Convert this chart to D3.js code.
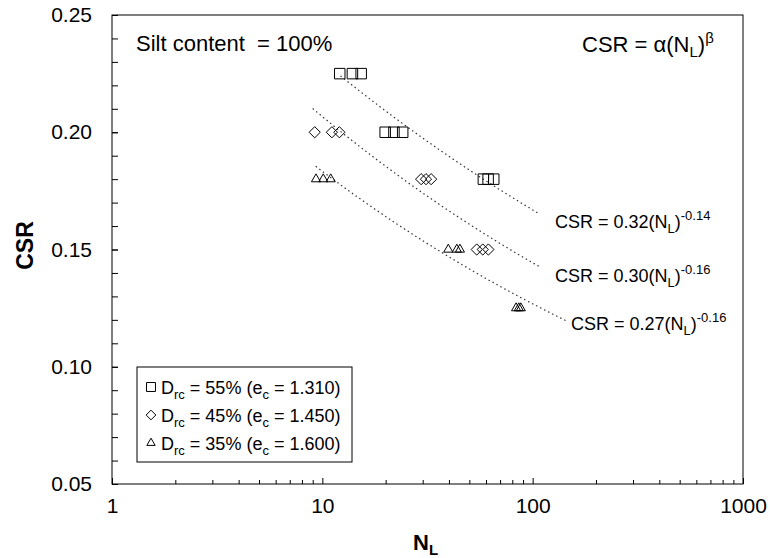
<!DOCTYPE html>
<html>
<head>
<meta charset="utf-8">
<script src="https://cdn.jsdelivr.net/npm/d3@7"></script>
<style>
  body { margin: 0; background: #fff; }
  svg { font-family: "Liberation Sans", Arial, sans-serif; }
</style>
</head>
<body>
<div id="chart"></div>
<script>
// data
const nl55 = [12.1, 13.9, 15.3, 19.9, 21.9, 24.1, 58.3, 61.4, 65.3];
const csr55 = [0.225, 0.225, 0.225, 0.20, 0.20, 0.20, 0.18, 0.18, 0.18];
const nl45 = [9.2, 11.1, 12.05, 29.5, 31.1, 32.9, 54.2, 57.9, 61.6];
const csr45 = [0.20, 0.20, 0.20, 0.18, 0.18, 0.18, 0.15, 0.15, 0.15];
const nl35 = [9.33, 10.1, 10.96, 39.7, 43.6, 45.1, 83.4, 85.9, 87.8];
const csr35 = [0.18, 0.18, 0.18, 0.15, 0.15, 0.15, 0.125, 0.125, 0.125];

// fitted curves CSR = a * N^b, drawn over [nFrom, nTo]
const fitAlpha = [0.318, 0.296, 0.265];
const fitBeta = [-0.14, -0.156, -0.16];
const fitFrom = [12.2, 9.0, 9.3];
const fitTo = [108, 108, 145];
const fitLabels = ["0.32", "0.30", "0.27"];
const fitExps = ["-0.14", "-0.16", "-0.16"];

const legendDrc = ["55%", "45%", "35%"];
const legendEc = ["1.310", "1.450", "1.600"];

const xTicks = [1, 10, 100, 1000];
const yTicks = [0.05, 0.10, 0.15, 0.20, 0.25];

const width = 770, height = 558;
const margin = { left: 112, right: 27, top: 15, bottom: 74 };

const svg = d3.select("#chart").append("svg")
    .attr("width", width)
    .attr("height", height);

const x = d3.scaleLog().domain([1, 1000]).range([margin.left, width - margin.right]);
const y = d3.scaleLinear().domain([0.05, 0.25]).range([height - margin.bottom, margin.top]);

// frame
svg.append("rect")
    .attr("x", x(1)).attr("y", y(0.25))
    .attr("width", x(1000) - x(1)).attr("height", y(0.05) - y(0.25))
    .attr("fill", "none").attr("stroke", "#000").attr("stroke-width", 1);

// x axis, ticks pointing inward
const minorX = [];
[1, 10, 100].forEach(d => { for (let k = 2; k <= 9; k++) minorX.push(d * k); });

const xAxis = svg.append("g")
    .attr("transform", `translate(0,${y(0.05)})`)
    .call(d3.axisBottom(x).tickValues(xTicks).tickFormat(d3.format("d")).tickSizeInner(-6).tickSizeOuter(0).tickPadding(14));
xAxis.select(".domain").remove();
xAxis.selectAll("text").attr("font-size", 21).attr("fill", "#000").attr("font-family", "Liberation Sans, Arial, sans-serif");

svg.append("g")
    .attr("transform", `translate(0,${y(0.05)})`)
    .call(d3.axisBottom(x).tickValues(minorX).tickFormat("").tickSizeInner(-4).tickSizeOuter(0))
    .select(".domain").remove();

// y axis
const yAxis = svg.append("g")
    .attr("transform", `translate(${x(1)},0)`)
    .call(d3.axisLeft(y).tickValues(yTicks).tickFormat(d3.format(".2f")).tickSizeInner(-6).tickSizeOuter(0).tickPadding(20));
yAxis.select(".domain").remove();
yAxis.selectAll("text").attr("font-size", 21).attr("fill", "#000").attr("font-family", "Liberation Sans, Arial, sans-serif");

svg.append("g")
    .attr("transform", `translate(${x(1)},0)`)
    .call(d3.axisLeft(y).tickValues(d3.range(0.06, 0.25, 0.01)).tickFormat("").tickSizeInner(-6).tickSizeOuter(0))
    .select(".domain").remove();

svg.selectAll(".tick line").attr("stroke", "#000");

// axis titles
const xTitle = svg.append("text")
    .attr("x", 413).attr("y", 550)
    .attr("font-size", 22).attr("font-weight", "bold");
xTitle.append("tspan").text("N");
xTitle.append("tspan").attr("font-size", 15).attr("dy", 5).text("L");

svg.append("text")
    .attr("transform", `translate(33,${(y(0.05) + y(0.25)) / 2 - 4}) rotate(-90)`)
    .attr("text-anchor", "middle")
    .attr("font-size", 23).attr("font-weight", "bold")
    .text("CSR");

// fit curves
const line = d3.line().x(d => x(d[0])).y(d => y(d[1]));
fitAlpha.forEach((a, i) => {
    const pts = d3.range(0, 41).map(k => {
        const n = Math.pow(10, Math.log10(fitFrom[i]) + k / 40 * (Math.log10(fitTo[i]) - Math.log10(fitFrom[i])));
        return [n, a * Math.pow(n, fitBeta[i])];
    });
    svg.append("path")
        .attr("d", line(pts))
        .attr("fill", "none")
        .attr("stroke", "#333")
        .attr("stroke-width", 1.2)
        .attr("stroke-dasharray", "1.5,3");
});

// markers
const symSquare = d3.symbol().type(d3.symbolSquare).size(110)();
const symDiamond = d3.symbol().type(d3.symbolDiamond2).size(80)();
const symTriangle = d3.symbol().type(d3.symbolTriangle2).size(60)();

function drawSeries(nl, csr, path) {
    svg.append("g").selectAll("path")
        .data(nl)
        .join("path")
        .attr("d", path)
        .attr("transform", (d, i) => `translate(${x(d)},${y(csr[i])})`)
        .attr("fill", "none")
        .attr("stroke", "#000")
        .attr("stroke-width", 1);
}
drawSeries(nl55, csr55, symSquare);
drawSeries(nl45, csr45, symDiamond);
drawSeries(nl35, csr35, symTriangle);

// annotations
svg.append("text")
    .attr("x", 136).attr("y", 51)
    .attr("font-size", 22)
    .attr("xml:space", "preserve")
    .text("Silt content  = 100%");

const gen = svg.append("text").attr("x", 582).attr("y", 52).attr("font-size", 22);
gen.append("tspan").text("CSR = α(N");
gen.append("tspan").attr("font-size", 15).attr("dy", 5).text("L");
gen.append("tspan").attr("dy", -5).text(")");
gen.append("tspan").attr("font-size", 15).attr("dy", -9).text("β");

const eqX = [555, 555, 571];
const eqY = [228, 282, 330];
fitLabels.forEach((lab, i) => {
    const t = svg.append("text").attr("x", eqX[i]).attr("y", eqY[i]).attr("font-size", 18);
    t.append("tspan").text(`CSR = ${lab}(N`);
    t.append("tspan").attr("font-size", 13).attr("dy", 5).text("L");
    t.append("tspan").attr("dy", -5).text(")");
    t.append("tspan").attr("font-size", 13).attr("dy", -8).text(fitExps[i]);
});

// legend
const legend = svg.append("g");
legend.append("rect")
    .attr("x", 137).attr("y", 367)
    .attr("width", 215).attr("height", 95)
    .attr("fill", "#fff").attr("stroke", "#000");

const legendSyms = [
    d3.symbol().type(d3.symbolSquare).size(80)(),
    d3.symbol().type(d3.symbolDiamond2).size(60)(),
    d3.symbol().type(d3.symbolTriangle2).size(50)()
];
legendDrc.forEach((drc, i) => {
    const cy = 387 + i * 28;
    legend.append("path")
        .attr("d", legendSyms[i])
        .attr("transform", `translate(151,${cy})`)
        .attr("fill", "none").attr("stroke", "#000");
    const t = legend.append("text").attr("x", 161).attr("y", cy + 7).attr("font-size", 18);
    t.append("tspan").text("D");
    t.append("tspan").attr("font-size", 13).attr("dy", 5).text("rc");
    t.append("tspan").attr("dy", -5).text(` = ${drc} (e`);
    t.append("tspan").attr("font-size", 13).attr("dy", 5).text("c");
    t.append("tspan").attr("dy", -5).text(` = ${legendEc[i]})`);
});
</script>
</body>
</html>
